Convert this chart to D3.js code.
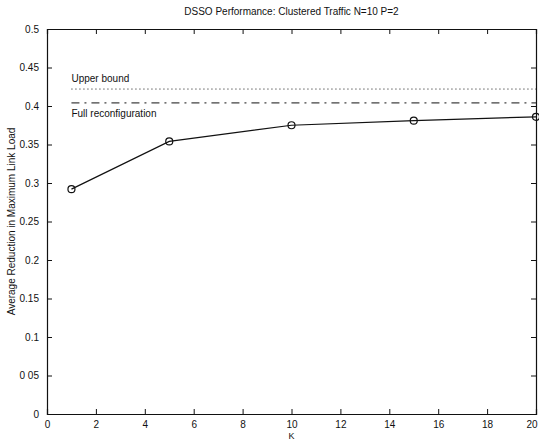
<!DOCTYPE html>
<html>
<head>
<meta charset="utf-8">
<script src="https://cdn.jsdelivr.net/npm/d3@7"></script>
<style>
  body { margin: 0; background: #fff; }
  svg { display: block; }
  text { font-family: "Liberation Sans", Arial, sans-serif; fill: #111; }
</style>
</head>
<body>
<div id="chart"></div>
<script>
// ── DSSO performance chart ──

const kValues = [1, 5, 10, 15, 20]
const reduction = [0.292, 0.354, 0.375, 0.381, 0.386]
const upperBound = 0.422
const fullReconfig = 0.404
const xTicks = [0, 2, 4, 6, 8, 10, 12, 14, 16, 18, 20]
const yTicks = [0, 0.05, 0.1, 0.15, 0.2, 0.25, 0.3, 0.35, 0.4, 0.45, 0.5]
const yTickLabels = ['0', '0 05', '0.1', '0.15', '0.2', '0.25', '0.3', '0.35', '0.4', '0.45', '0.5']

const width = 539, height = 440
const margin = { top: 29, right: 3, bottom: 26, left: 47 }

const svg = d3.select('#chart').append('svg')
  .attr('width', width)
  .attr('height', height)

const x = d3.scaleLinear().domain([0, 20]).range([margin.left, width - margin.right])
const y = d3.scaleLinear().domain([0, 0.5]).range([height - margin.bottom, margin.top])

const ink = '#111'
const tickLen = 5

// axes with inward ticks on all four sides (matlab box)
const axBottom = svg.append('g')
  .attr('transform', `translate(0,${y(0)})`)
  .call(d3.axisBottom(x).tickValues(xTicks).tickSize(-tickLen).tickPadding(tickLen + 2).tickFormat(d3.format('d')))
const axTop = svg.append('g')
  .attr('transform', `translate(0,${y(0.5)})`)
  .call(d3.axisTop(x).tickValues(xTicks).tickSize(-tickLen).tickFormat(''))
const axLeft = svg.append('g')
  .attr('transform', `translate(${x(0)},0)`)
  .call(d3.axisLeft(y).tickValues(yTicks).tickSize(-tickLen).tickPadding(tickLen + 3).tickFormat((d, i) => yTickLabels[i]))
const axRight = svg.append('g')
  .attr('transform', `translate(${x(20)},0)`)
  .call(d3.axisRight(y).tickValues(yTicks).tickSize(-tickLen).tickFormat(''))

;[axBottom, axTop, axLeft, axRight].forEach(a => {
  a.select('.domain').attr('stroke', ink).attr('stroke-width', 1.2)
  a.selectAll('.tick line').attr('stroke', ink).attr('stroke-width', 1)
  a.selectAll('text').attr('font-size', 10).attr('fill', ink)
    .attr('font-family', '"Liberation Sans", Arial, sans-serif')
})
// last label sits on the window edge, keep it inside
axBottom.selectAll('.tick').filter(d => d === 20).select('text').attr('text-anchor', 'end').attr('dx', 1)

// reference lines
svg.append('line')
  .attr('x1', x(1)).attr('x2', x(20))
  .attr('y1', y(upperBound)).attr('y2', y(upperBound))
  .attr('stroke', ink).attr('stroke-width', 1)
  .attr('stroke-dasharray', '1,3')

svg.append('line')
  .attr('x1', x(1)).attr('x2', x(20))
  .attr('y1', y(fullReconfig)).attr('y2', y(fullReconfig))
  .attr('stroke', ink).attr('stroke-width', 1)
  .attr('stroke-dasharray', '8,5,2,5')

svg.append('text')
  .attr('x', x(1)).attr('y', y(upperBound) - 7)
  .attr('font-size', 10)
  .text('Upper bound')

svg.append('text')
  .attr('x', x(1)).attr('y', y(fullReconfig) + 14)
  .attr('font-size', 10)
  .text('Full reconfiguration')

// data line + markers
const pts = kValues.map((k, i) => [k, reduction[i]])
svg.append('path')
  .datum(pts)
  .attr('fill', 'none')
  .attr('stroke', ink)
  .attr('stroke-width', 1.2)
  .attr('d', d3.line().x(d => x(d[0])).y(d => y(d[1])))

svg.selectAll('circle.pt')
  .data(pts)
  .join('circle')
  .attr('class', 'pt')
  .attr('cx', d => x(d[0]))
  .attr('cy', d => y(d[1]))
  .attr('r', 3.5)
  .attr('fill', 'none')
  .attr('stroke', ink)
  .attr('stroke-width', 1.2)

// titles
svg.append('text')
  .attr('x', (x(0) + x(20)) / 2).attr('y', 15)
  .attr('text-anchor', 'middle')
  .attr('font-size', 10)
  .text('DSSO Performance: Clustered Traffic N=10 P=2')

svg.append('text')
  .attr('x', (x(0) + x(20)) / 2).attr('y', height - 1)
  .attr('text-anchor', 'middle')
  .attr('font-size', 9)
  .text('K')

svg.append('text')
  .attr('transform', `translate(15,${(y(0) + y(0.5)) / 2}) rotate(-90)`)
  .attr('text-anchor', 'middle')
  .attr('font-size', 10)
  .text('Average Reduction in Maximum Link Load')
</script>
</body>
</html>
